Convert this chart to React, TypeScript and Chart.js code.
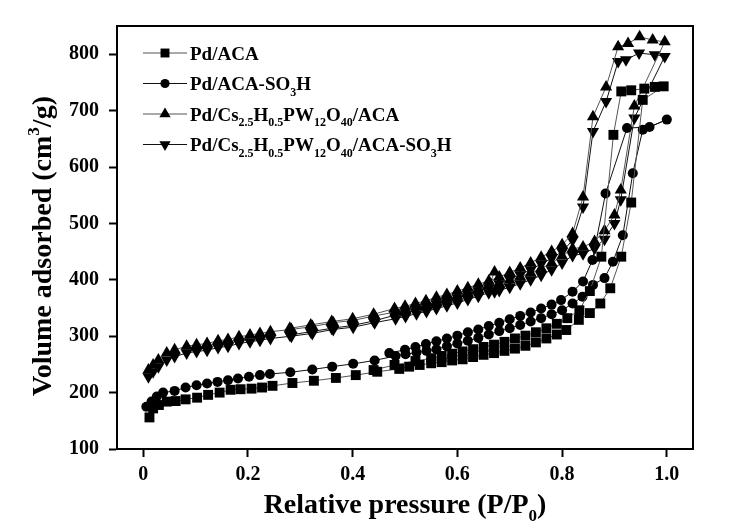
import React, { useEffect, useRef } from 'react';
import { Chart, registerables } from 'chart.js';

Chart.register(...registerables);

// ---------- data ----------
const xTicks = [0, 0.2, 0.4, 0.6, 0.8, 1.0];
const xTickLabels = ['0', '0.2', '0.4', '0.6', '0.8', '1.0'];
const yTicks = [100, 200, 300, 400, 500, 600, 700, 800];
const yTickLabels = ['100', '200', '300', '400', '500', '600', '700', '800'];

const seriesLabels = [
  'Pd/ACA',
  'Pd/ACA-SO_{3}H',
  'Pd/Cs_{2.5}H_{0.5}PW_{12}O_{40}/ACA',
  'Pd/Cs_{2.5}H_{0.5}PW_{12}O_{40}/ACA-SO_{3}H',
];

const xTitle = 'Relative pressure (P/P_{0})';
const yTitle = 'Volume adsorbed (cm^{3}/g)';

// Pd/ACA (squares)
const pdAcaAdsP = [0.012, 0.019, 0.03, 0.045, 0.062, 0.081, 0.103, 0.124, 0.146, 0.167, 0.186, 0.207, 0.227, 0.247, 0.285, 0.326, 0.368, 0.406, 0.447, 0.489, 0.508, 0.528, 0.55, 0.57, 0.59, 0.61, 0.63, 0.65, 0.67, 0.69, 0.71, 0.73, 0.75, 0.77, 0.79, 0.808, 0.832, 0.853, 0.873, 0.892, 0.913, 0.932, 0.954, 0.994];
const pdAcaAdsV = [156, 172, 178, 184, 185, 188, 191, 196, 200, 205, 206, 207, 209, 212, 217, 221, 226, 231, 237, 242, 246, 249, 252, 254, 257, 259, 263, 267, 270, 274, 278, 283, 289, 296, 303, 311, 329, 341, 358, 385, 441, 537, 719, 743];
const pdAcaDesP = [0.977, 0.957, 0.932, 0.913, 0.898, 0.875, 0.853, 0.833, 0.81, 0.79, 0.77, 0.75, 0.73, 0.71, 0.69, 0.67, 0.65, 0.63, 0.61, 0.59, 0.57, 0.55, 0.52, 0.48, 0.44];
const pdAcaDesV = [742, 739, 736, 734, 657, 441, 380, 346, 332, 322, 314, 307, 301, 296, 290, 285, 281, 277, 273, 269, 265, 261, 256, 249, 240];

// Pd/ACA-SO3H (circles)
const pdAcaSo3hAdsP = [0.006, 0.016, 0.026, 0.038, 0.06, 0.081, 0.102, 0.122, 0.142, 0.162, 0.181, 0.202, 0.223, 0.242, 0.281, 0.323, 0.361, 0.401, 0.442, 0.482, 0.501, 0.522, 0.541, 0.56, 0.58, 0.60, 0.62, 0.64, 0.66, 0.68, 0.70, 0.72, 0.74, 0.76, 0.78, 0.80, 0.82, 0.839, 0.859, 0.881, 0.897, 0.916, 0.935, 0.954, 1.0];
const pdAcaSo3hAdsV = [175, 184, 193, 200, 203, 209, 213, 216, 219, 222, 225, 228, 231, 233, 236, 241, 246, 251, 257, 265, 268, 271, 274, 277, 282, 287, 292, 297, 303, 309, 314, 320, 326, 332, 339, 346, 358, 370, 391, 403, 432, 479, 589, 666, 684];
const pdAcaSo3hDesP = [0.967, 0.924, 0.883, 0.858, 0.84, 0.82, 0.798, 0.78, 0.76, 0.74, 0.72, 0.70, 0.68, 0.66, 0.64, 0.62, 0.60, 0.58, 0.56, 0.54, 0.52, 0.50, 0.47];
const pdAcaSo3hDesV = [671, 669, 553, 435, 397, 379, 364, 356, 349, 342, 336, 330, 324, 318, 312, 307, 301, 296, 291, 286, 281, 276, 270];

// Pd/Cs2.5H0.5PW12O40/ACA (triangle up)
const csAcaAdsP = [0.01, 0.019, 0.029, 0.045, 0.06, 0.083, 0.102, 0.122, 0.143, 0.162, 0.183, 0.204, 0.223, 0.243, 0.283, 0.323, 0.363, 0.401, 0.442, 0.482, 0.501, 0.522, 0.541, 0.56, 0.58, 0.60, 0.62, 0.64, 0.66, 0.671, 0.68, 0.70, 0.72, 0.74, 0.76, 0.78, 0.80, 0.82, 0.84, 0.862, 0.881, 0.90, 0.912, 0.938, 0.996];
const csAcaAdsV = [240, 249, 258, 270, 276, 282, 285, 287, 292, 294, 299, 302, 305, 308, 312, 317, 324, 328, 336, 343, 347, 352, 356, 361, 366, 371, 377, 383, 389, 414, 393, 399, 405, 412, 420, 430, 442, 455, 458, 468, 487, 515, 559, 708, 822];
const csAcaDesP = [0.973, 0.948, 0.926, 0.907, 0.884, 0.859, 0.84, 0.82, 0.80, 0.78, 0.76, 0.74, 0.72, 0.70, 0.68, 0.66, 0.64, 0.62, 0.60, 0.58, 0.56, 0.54, 0.52, 0.50, 0.48, 0.44, 0.40, 0.36, 0.32, 0.28];
const csAcaDesV = [825, 831, 819, 813, 742, 689, 547, 482, 462, 450, 440, 430, 421, 413, 405, 398, 392, 386, 380, 374, 369, 363, 358, 353, 349, 339, 331, 326, 320, 314];

// Pd/Cs2.5H0.5PW12O40/ACA-SO3H (triangle down)
const csAcaSo3hAdsP = [0.01, 0.019, 0.029, 0.045, 0.06, 0.083, 0.102, 0.122, 0.143, 0.162, 0.183, 0.204, 0.223, 0.243, 0.283, 0.323, 0.363, 0.401, 0.442, 0.482, 0.501, 0.522, 0.541, 0.56, 0.58, 0.60, 0.62, 0.64, 0.66, 0.671, 0.68, 0.70, 0.72, 0.74, 0.76, 0.78, 0.80, 0.82, 0.84, 0.862, 0.881, 0.90, 0.912, 0.938, 0.996];
const csAcaSo3hAdsV = [228, 237, 246, 258, 264, 270, 273, 275, 280, 282, 287, 290, 293, 296, 300, 305, 312, 316, 324, 331, 335, 340, 344, 349, 354, 359, 365, 371, 377, 379, 381, 387, 393, 400, 408, 418, 430, 443, 446, 456, 472, 500, 542, 687, 796];
const csAcaSo3hDesP = [0.977, 0.947, 0.922, 0.907, 0.884, 0.859, 0.84, 0.82, 0.80, 0.78, 0.76, 0.74, 0.72, 0.70, 0.68, 0.66, 0.64, 0.62, 0.60, 0.58, 0.56, 0.54, 0.52, 0.50, 0.48, 0.44, 0.40, 0.36, 0.32, 0.28];
const csAcaSo3hDesV = [799, 802, 790, 787, 716, 663, 529, 470, 450, 438, 428, 418, 409, 401, 393, 386, 380, 374, 368, 362, 357, 351, 346, 341, 337, 327, 319, 314, 308, 302];

// ---------- styling ----------
const FAMILY = "'Liberation Serif', 'Times New Roman', serif";
const markerStyles = ['rect', 'circle', 'triangle', 'triangle'];
const markerRadii = [7, 5, 7, 7];
const markerRotations = [0, 0, 0, 180];
const lineColors = ['#555555', '#111111', '#555555', '#111111'];

const toPoints = (xs: number[], ys: number[]) => xs.map((x, i) => ({ x, y: ys[i] }));

function parseRich(s: string) {
  const parts: { t: string; k: number }[] = [];
  const re = /([_^])\{([^}]*)\}/g;
  let last = 0;
  let m: RegExpExecArray | null;
  while ((m = re.exec(s))) {
    if (m.index > last) parts.push({ t: s.slice(last, m.index), k: 0 });
    parts.push({ t: m[2], k: m[1] === '_' ? 1 : 2 });
    last = re.lastIndex;
  }
  if (last < s.length) parts.push({ t: s.slice(last), k: 0 });
  return parts;
}

function drawRich(ctx: CanvasRenderingContext2D, s: string, x: number, y: number, size: number, align: 'left' | 'center', subRatio = 0.62) {
  const parts = parseRich(s);
  const small = Math.round(size * subRatio);
  const fontFor = (k: number) => `bold ${k ? small : size}px ${FAMILY}`;
  const widths = parts.map((p) => {
    ctx.font = fontFor(p.k);
    return ctx.measureText(p.t).width;
  });
  const total = widths.reduce((a, b) => a + b, 0);
  let cx = align === 'center' ? x - total / 2 : x;
  ctx.textAlign = 'left';
  ctx.textBaseline = 'alphabetic';
  parts.forEach((p, i) => {
    ctx.font = fontFor(p.k);
    const dy = p.k === 1 ? size * 0.3 : p.k === 2 ? -size * 0.42 : 0;
    ctx.fillText(p.t, cx, y + dy);
    cx += widths[i];
  });
}

function drawMarker(ctx: CanvasRenderingContext2D, style: string, x: number, y: number, r: number, rot: number) {
  ctx.beginPath();
  if (style === 'rect') {
    const s = r * Math.SQRT1_2;
    ctx.rect(x - s, y - s, 2 * s, 2 * s);
  } else if (style === 'circle') {
    ctx.arc(x, y, r, 0, Math.PI * 2);
  } else {
    const d = rot ? -1 : 1;
    const hw = r * Math.sin((2 * Math.PI) / 3);
    ctx.moveTo(x, y - d * r);
    ctx.lineTo(x + hw, y + (d * r) / 2);
    ctx.lineTo(x - hw, y + (d * r) / 2);
    ctx.closePath();
  }
  ctx.fill();
}

const decorPlugin = {
  id: 'decor',
  afterDraw(chart: any) {
    const ctx: CanvasRenderingContext2D = chart.ctx;
    const a = chart.chartArea;
    ctx.save();
    ctx.strokeStyle = '#000';
    ctx.lineWidth = 2;
    ctx.beginPath();
    ctx.moveTo(a.left, a.top);
    ctx.lineTo(a.right, a.top);
    ctx.lineTo(a.right, a.bottom);
    ctx.stroke();

    const rowY = [53, 83.5, 114, 144.5];
    seriesLabels.forEach((lab, i) => {
      const y = rowY[i];
      ctx.strokeStyle = lineColors[i];
      ctx.lineWidth = 1.2;
      ctx.beginPath();
      ctx.moveTo(143, y);
      ctx.lineTo(187, y);
      ctx.stroke();
      ctx.fillStyle = '#000';
      const r = markerStyles[i] === 'triangle' ? 6.5 : markerStyles[i] === 'circle' ? 4.6 : 6.3;
      drawMarker(ctx, markerStyles[i], 165, y, r, markerRotations[i]);
      drawRich(ctx, lab, 190, y + 6.5, 19, 'left', 0.62);
    });

    ctx.fillStyle = '#000';
    drawRich(ctx, xTitle, (a.left + a.right) / 2, 513, 28, 'center');
    ctx.translate(51, 246);
    ctx.rotate(-Math.PI / 2);
    drawRich(ctx, yTitle, 0, 0, 28, 'center');
    ctx.restore();
  },
};

export default function App() {
  const ref = useRef<HTMLCanvasElement | null>(null);

  useEffect(() => {
    document.body.style.margin = '0';
    const canvas = ref.current;
    if (!canvas) return;
    const all = [
      [pdAcaAdsP.concat(pdAcaDesP), pdAcaAdsV.concat(pdAcaDesV)],
      [pdAcaSo3hAdsP.concat(pdAcaSo3hDesP), pdAcaSo3hAdsV.concat(pdAcaSo3hDesV)],
      [csAcaAdsP.concat(csAcaDesP), csAcaAdsV.concat(csAcaDesV)],
      [csAcaSo3hAdsP.concat(csAcaSo3hDesP), csAcaSo3hAdsV.concat(csAcaSo3hDesV)],
    ];
    const datasets = all.map(([xs, ys], i) => ({
      label: seriesLabels[i],
      data: toPoints(xs, ys),
      showLine: true,
      borderColor: lineColors[i],
      borderWidth: 1,
      backgroundColor: '#000',
      pointBackgroundColor: '#000',
      pointBorderColor: '#000',
      pointBorderWidth: 0,
      pointStyle: markerStyles[i],
      pointRadius: markerRadii[i],
      pointRotation: markerRotations[i],
      tension: 0,
    }));
    const tickFont = { family: FAMILY, size: 20, weight: 'bold' as const };
    const chart = new Chart(canvas, {
      type: 'scatter',
      data: { datasets },
      plugins: [decorPlugin],
      options: {
        animation: false,
        responsive: false,
        devicePixelRatio: 1,
        layout: { padding: { left: 0, right: 47, top: 26, bottom: 0 } },
        plugins: { legend: { display: false }, tooltip: { enabled: false } },
        scales: {
          x: {
            type: 'linear',
            min: -0.05,
            max: 1.05,
            afterFit: (s: any) => { s.height = 83; },
            afterBuildTicks: (s: any) => { s.ticks = xTicks.map((v) => ({ value: v })); },
            ticks: {
              color: '#000',
              font: tickFont,
              padding: 6,
              maxRotation: 0,
              autoSkip: false,
              callback: (_v: any, idx: number) => xTickLabels[idx],
            },
            grid: { drawOnChartArea: false, drawTicks: true, tickLength: 8, tickColor: '#000', tickWidth: 2 },
            border: { display: true, color: '#000', width: 2 },
          },
          y: {
            type: 'linear',
            min: 100,
            max: 850,
            afterFit: (s: any) => { s.width = 117; },
            afterBuildTicks: (s: any) => { s.ticks = yTicks.map((v) => ({ value: v })); },
            ticks: {
              color: '#000',
              font: tickFont,
              padding: 10,
              autoSkip: false,
              callback: (_v: any, idx: number) => yTickLabels[idx],
            },
            grid: { drawOnChartArea: false, drawTicks: true, tickLength: 8, tickColor: '#000', tickWidth: 2 },
            border: { display: true, color: '#000', width: 2 },
          },
        },
      },
    } as any);
    return () => chart.destroy();
  }, []);

  return <canvas ref={ref} width={740} height={532} style={{ display: 'block' }} />;
}
